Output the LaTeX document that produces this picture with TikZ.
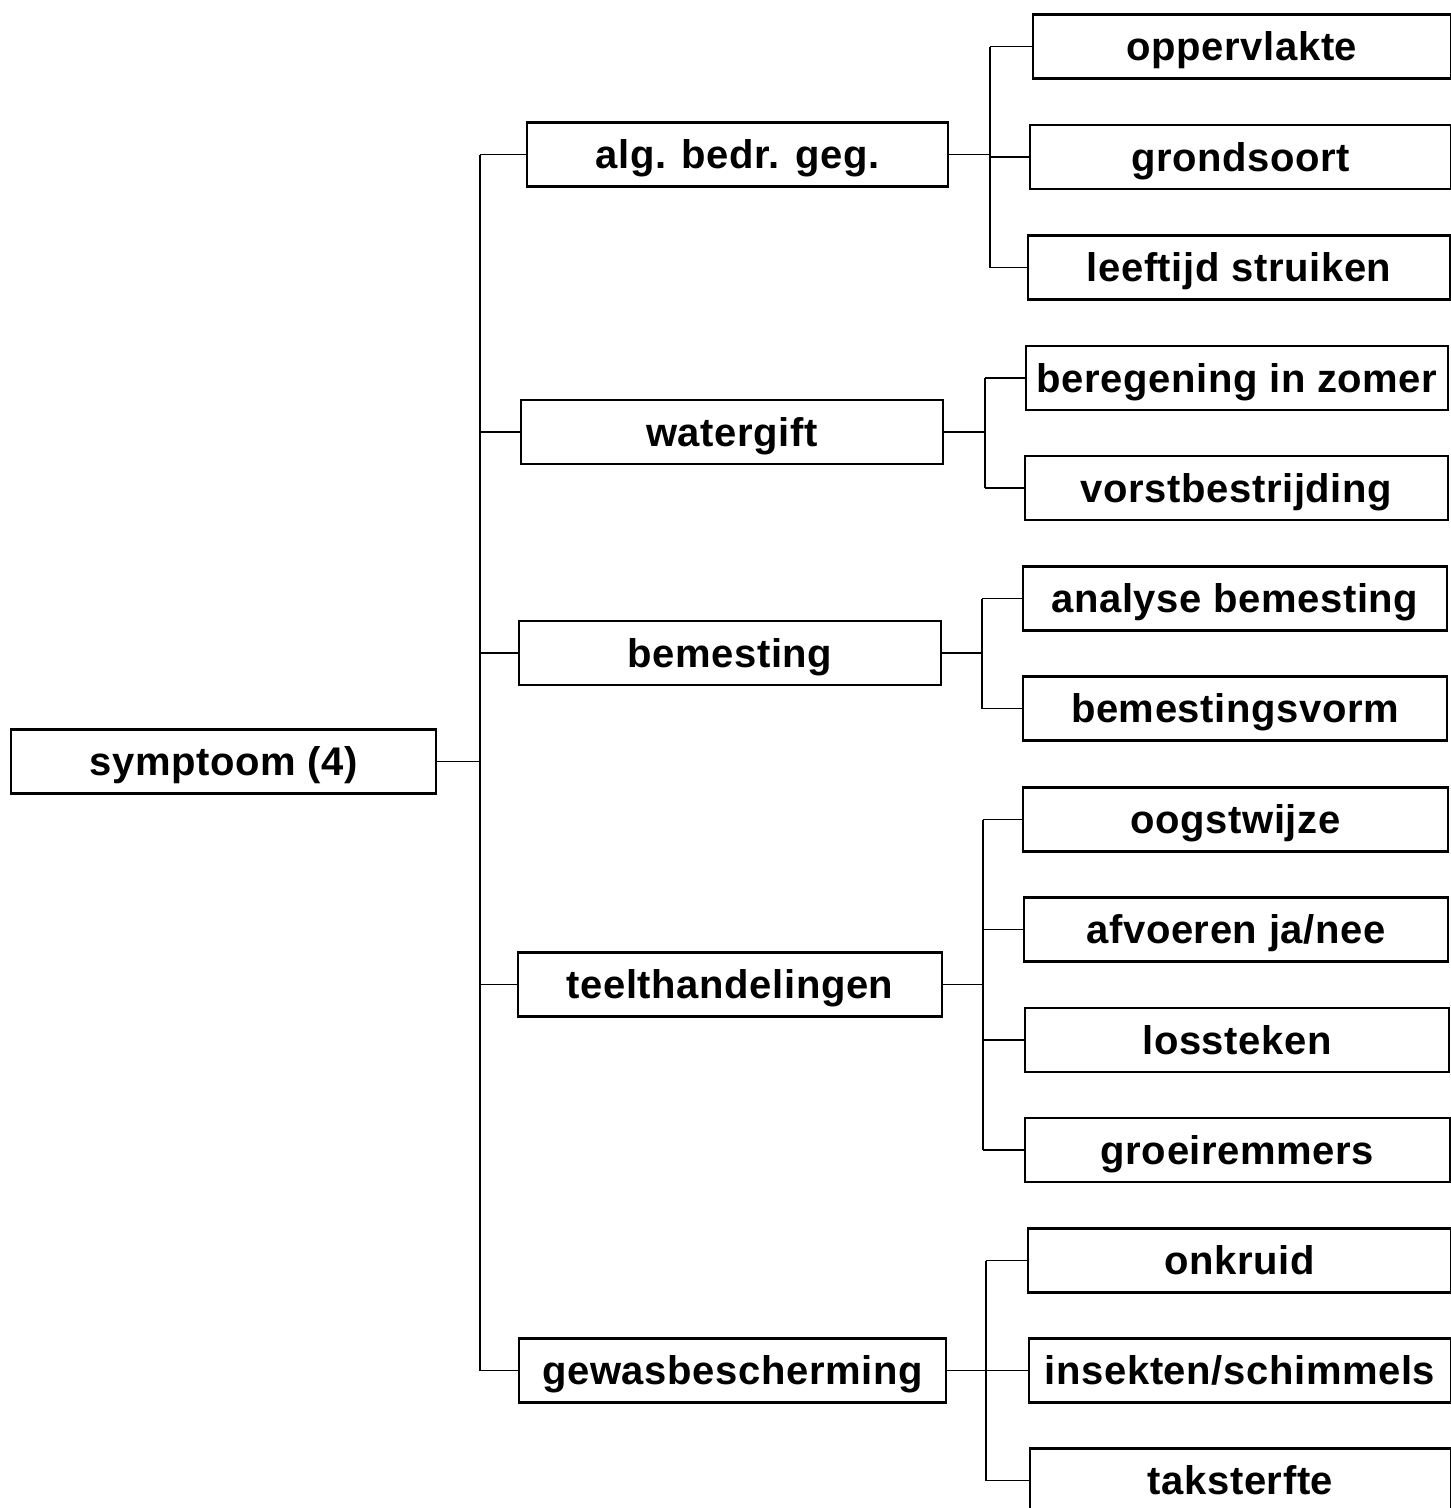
\documentclass[tikz,border=0pt]{standalone}
\usepackage{fontspec}
\setmainfont{Liberation Sans}[LetterSpace=1.5]
\begin{document}
\begin{tikzpicture}[x=1pt,y=-1pt,
  box/.style={draw,line width=2.4pt,inner sep=0pt,minimum height=64pt,
    font=\fontsize{40}{40}\selectfont\bfseries,text height=29pt,text depth=1pt},
  conn/.style={line width=1.1pt}]
\useasboundingbox (0,0) rectangle (1451,1508);
% root
\node[box,minimum width=425pt] (sym) at (223.5,761.5) {symptoom (4)};
% level 2
\node[box,minimum width=421pt] (alg) at (737.5,154.5) {alg. bedr. geg.};
\node[box,minimum width=422pt] (wat) at (732,432) {watergift};
\node[box,minimum width=422pt] (bem) at (730,653) {bemesting};
\node[box,minimum width=424pt] (tee) at (730,984.5) {teelthandelingen};
\node[box,minimum width=427pt] (gew) at (732.5,1370.5) {gewasbescherming};
% level 3
\node[box,minimum width=418pt] (opp) at (1242,46.5) {oppervlakte};
\node[box,minimum width=421pt] (gro) at (1240.5,157) {grondsoort};
\node[box,minimum width=422pt] (lee) at (1239,267.5) {leeftijd struiken};
\node[box,minimum width=422pt] (ber) at (1237,378) {beregening in zomer};
\node[box,minimum width=423pt] (vor) at (1236.5,488) {vorstbestrijding};
\node[box,minimum width=424pt] (ana) at (1235,598.5) {analyse bemesting};
\node[box,minimum width=424pt] (bmv) at (1235,708.5) {bemestingsvorm};
\node[box,minimum width=425pt] (oog) at (1235.5,819.5) {oogstwijze};
\node[box,minimum width=424pt] (afv) at (1236,929.5) {afvoeren ja/nee};
\node[box,minimum width=424pt] (los) at (1237,1040) {lossteken};
\node[box,minimum width=425pt] (gre) at (1237.5,1150) {groeiremmers};
\node[box,minimum width=423pt] (onk) at (1239.5,1260.5) {onkruid};
\node[box,minimum width=422pt] (ins) at (1240,1370.5) {insekten/schimmels};
\node[box,minimum width=421pt] (tak) at (1240.5,1480.5) {taksterfte};
% trunk coordinates
\coordinate (t0) at (480,761.5);
\coordinate (t1) at (990,154.5);
\coordinate (t2) at (985,432);
\coordinate (t3) at (982,653);
\coordinate (t4) at (983,984.5);
\coordinate (t5) at (986,1370.5);
% root connectors
\draw[conn] (sym.east) -- (t0);
\draw[conn] (t0 |- alg.west) -- (t0 |- gew.west);
\foreach \n in {alg,wat,bem,tee,gew} \draw[conn] (t0 |- \n.west) -- (\n.west);
% group 1
\draw[conn] (alg.east) -- (t1);
\draw[conn] (t1 |- opp.west) -- (t1 |- lee.west);
\foreach \n in {opp,gro,lee} \draw[conn] (t1 |- \n.west) -- (\n.west);
% group 2
\draw[conn] (wat.east) -- (t2);
\draw[conn] (t2 |- ber.west) -- (t2 |- vor.west);
\foreach \n in {ber,vor} \draw[conn] (t2 |- \n.west) -- (\n.west);
% group 3
\draw[conn] (bem.east) -- (t3);
\draw[conn] (t3 |- ana.west) -- (t3 |- bmv.west);
\foreach \n in {ana,bmv} \draw[conn] (t3 |- \n.west) -- (\n.west);
% group 4
\draw[conn] (tee.east) -- (t4);
\draw[conn] (t4 |- oog.west) -- (t4 |- gre.west);
\foreach \n in {oog,afv,los,gre} \draw[conn] (t4 |- \n.west) -- (\n.west);
% group 5
\draw[conn] (gew.east) -- (t5);
\draw[conn] (t5 |- onk.west) -- (t5 |- tak.west);
\foreach \n in {onk,ins,tak} \draw[conn] (t5 |- \n.west) -- (\n.west);
\end{tikzpicture}
\end{document}
